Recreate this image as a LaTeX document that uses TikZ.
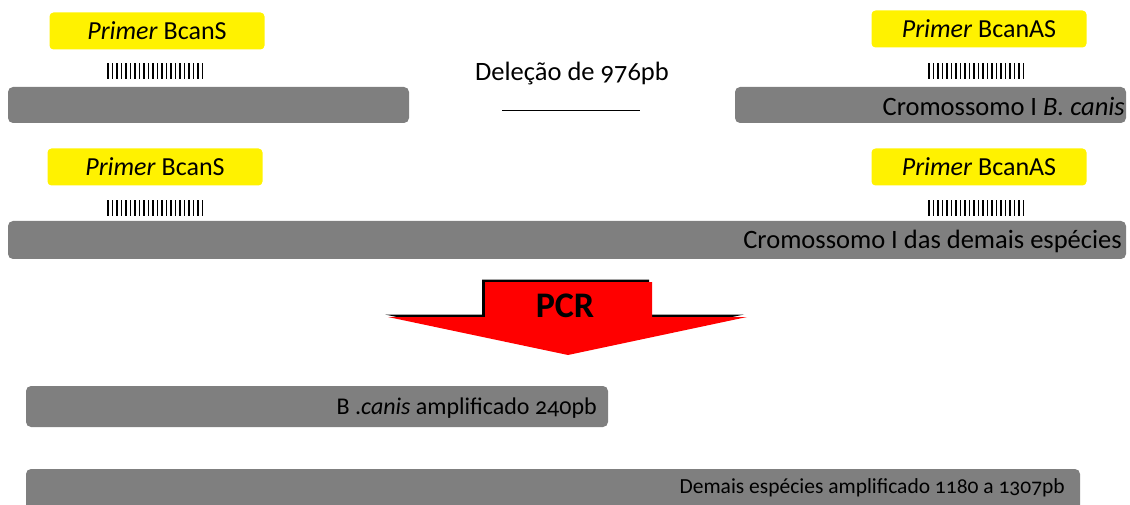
\documentclass[tikz,border=0pt]{standalone}
\usepackage{fontspec}
\setmainfont[Numbers=OldStyle]{Carlito}
\definecolor{bargray}{HTML}{7F7F7F}
\definecolor{pcrred}{HTML}{FF0000}
\tikzset{
  primer/.style={fill=yellow, rounded corners=4pt, minimum width=215pt,
    minimum height=37pt, inner sep=0pt, font=\fontsize{26}{26}\selectfont},
  cromo/.style={fill=bargray, rounded corners=5pt, inner sep=0pt},
  bartext/.style={anchor=east, inner sep=0pt, font=\fontsize{26.5}{26.5}\selectfont},
  barcode/.pic={\foreach \i in {0,...,21} \draw[line width=1.3pt] (\i*4.5,0) -- ++(0,-16);}
}
\begin{document}
\begin{tikzpicture}[x=1pt,y=-1pt]
  \clip (0,0) rectangle (1130,505);
  % primers
  \node[primer] (ps1) at (157,31) {\textit{Primer} BcanS};
  \node[primer] (pa1) at (979,29) {\textit{Primer} BcanAS};
  \node[primer] (ps2) at (155,167) {\textit{Primer} BcanS};
  \node[primer] (pa2) at (979,167) {\textit{Primer} BcanAS};
  \pic at (108,79) {barcode};
  \pic at (929,79) {barcode};
  \pic at (108,216) {barcode};
  \pic at (929,216) {barcode};
  % chromosomes
  \node[cromo, minimum width=401pt, minimum height=36pt] (c1) at (208.5,105) {};
  \node[cromo, minimum width=391pt, minimum height=36pt] (c2) at (930.5,105) {};
  \node[bartext] (t2) at (1125,106) {Cromossomo I \textit{B. canis}};
  \node[cromo, minimum width=1118pt, minimum height=38pt] (c3) at (567,240) {};
  \node[bartext] (t3) at (1122,241) {Cromossomo I das demais espécies};
  \node[font=\fontsize{26.5}{26.5}\selectfont] (del) at (572,74) {Deleção de 976pb};
  \draw[line width=0.8pt] (502,110) -- (640,110);
  % PCR arrow
  \draw[fill=black, draw=none, shift={(-3,-2.5)}]
    (485,282) -- (652,282) -- (652,317) -- (747,317) -- (568,355)
    -- (388,317) -- (485,317) -- cycle;
  \fill[pcrred] (485,282) -- (652,282) -- (652,317) -- (747,317) -- (568,355)
    -- (388,317) -- (485,317) -- cycle;
  \node[font=\fontsize{36}{36}\selectfont\bfseries] (pcr) at (565,306) {PCR};
  % products
  \node[cromo, minimum width=582pt, minimum height=41pt] (a1) at (317,406.5) {};
  \node[bartext, font=\fontsize{24}{24}\selectfont] (ta1) at (597,408) {B .\textit{canis} amplificado 240pb};
  \node[cromo, minimum width=1054pt, minimum height=50pt] (a2) at (553,494) {};
  \node[bartext, font=\fontsize{21.5}{21.5}\selectfont] (ta2) at (1065,488) {Demais espécies amplificado 1180 a 1307pb};
\end{tikzpicture}
\end{document}
